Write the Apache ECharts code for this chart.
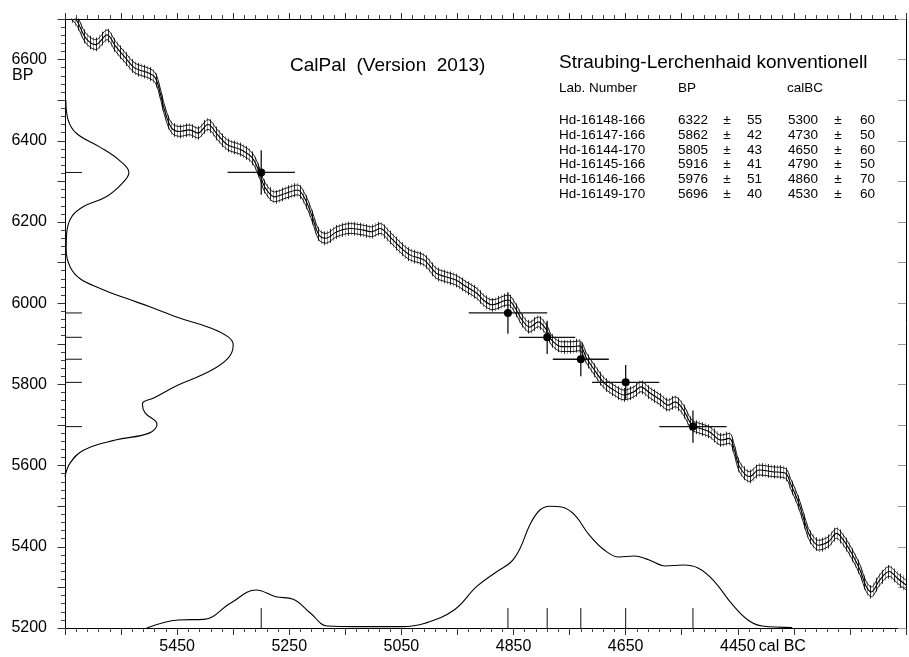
<!DOCTYPE html>
<html>
<head>
<meta charset="utf-8">
<script src="https://cdn.jsdelivr.net/npm/echarts@6/dist/echarts.min.js"></script>
<style>
html, body { margin: 0; padding: 0; background: #fff; }
#chart { width: 909px; height: 657px; }
</style>
</head>
<body>
<div id="chart"></div>
<script>
// ---- Calibration curve (centre line): calendar age (cal BC) vs radiocarbon age (BP)
const curveCalBC = [5641,5628,5613,5595,5575,5560,5542,5525,5501,5489,5481,5472,5460,5445,5428,5413,5395,5378,5360,5336,
  5316,5303,5294,5276,5256,5235,5221,5209,5197,5185,5165,5141,5118,5103,5088,5071,5053,5035,5009,4988,
  4971,4953,4935,4915,4904,4888,4860,4847,4835,4821,4806,4791,4782,4764,4746,4732,4720,4706,4688,4671,
  4653,4635,4623,4606,4588,4574,4562,4547,4532,4518,4500,4480,4465,4456,4447,4429,4412,4388,4365,4356,
  4341,4330,4321,4306,4288,4274,4262,4247,4232,4221,4212,4197,4180,4165,4150];
const curveBP = [6717,6694,6653,6637,6661,6633,6604,6579,6567,6555,6522,6473,6432,6423,6427,6419,6440,6415,6390,6378,
  6358,6321,6287,6262,6271,6279,6254,6213,6168,6160,6176,6184,6180,6176,6184,6164,6139,6119,6106,6074,
  6065,6057,6041,6024,6008,5996,6008,5988,5959,5941,5954,5934,5909,5893,5893,5895,5865,5836,5803,5786,
  5774,5782,5794,5778,5762,5749,5757,5737,5700,5692,5683,5663,5667,5638,5597,5573,5589,5585,5581,5556,
  5507,5458,5425,5404,5413,5433,5417,5384,5343,5302,5289,5318,5339,5322,5306];
const curveSigmaBP = 12;      // half-width of the outlined curve band (BP)
const curveDataErrBP = 17;    // half-length of the raw data error bars (BP)

// ---- Samples
const labNumbers  = ['Hd-16148-166','Hd-16147-166','Hd-16144-170','Hd-16145-166','Hd-16146-166','Hd-16149-170'];
const sampleBP    = [6322, 5862, 5805, 5916, 5976, 5696];
const sampleBPErr = [55, 42, 43, 41, 51, 40];
const sampleCalBC = [5300, 4730, 4650, 4790, 4860, 4530];
const sampleCalErr= [60, 50, 60, 50, 70, 60];

// ---- Summed radiocarbon probability (drawn along the BP axis)
const bpDensityBP  = [6501,6451,6418,6385,6353,6322,6295,6262,6238,6213,6173,6131,6090,6061,6037,6012,5992,5964,5941,5917,
  5897,5865,5831,5799,5767,5752,5730,5702,5680,5663,5638,5606,5573];
const bpDensityRel = [0.005,0.019,0.069,0.206,0.32,0.38,0.34,0.245,0.11,0.04,0.01,0.007,0.03,0.088,0.206,0.363,0.5,0.676,0.853,0.97,
  1.0,0.97,0.853,0.676,0.53,0.46,0.476,0.547,0.5,0.30,0.11,0.03,0.0];

// ---- Summed calendar probability (drawn along the cal BC axis)
const calDensityCalBC = [5504,5448,5402,5355,5309,5274,5243,5212,5182,5130,5049,5008,4956,4916,4880,4854,4838,4821,4803,4785,
  4764,4741,4715,4688,4662,4635,4609,4579,4547,4521,4494,4459,4432,4406,4353];
const calDensityRel = [0,0.066,0.071,0.203,0.312,0.257,0.236,0.121,0.016,0.011,0.011,0.039,0.148,0.339,0.462,0.544,0.657,0.846,0.969,1.0,
  0.993,0.928,0.764,0.64,0.583,0.591,0.56,0.509,0.517,0.493,0.394,0.189,0.066,0.016,0.004];

// ---- Axes
const calMin = 4150, calMax = 5650;
const bpMin = 5200, bpMax = 6700;
const calTickLabels = [5450, 5250, 5050, 4850, 4650, 4450];
const bpTickLabels  = [6600, 6400, 6200, 6000, 5800, 5600, 5400, 5200];

const FONT = "'Liberation Sans', Arial, Helvetica, sans-serif";

// vertical hatching used for the raw curve data error bars
const hatch = document.createElement('canvas');
hatch.width = 6; hatch.height = 4;
const hctx = hatch.getContext('2d');
hctx.fillStyle = '#1a1a1a'; hctx.fillRect(0, 0, 1, 4);
hctx.fillStyle = '#8c8c8c'; hctx.fillRect(3, 0, 1, 4);

const pairs = (xs, ys) => xs.map((x, i) => [x, ys[i]]);
const bandUp   = curveBP.map(v => v + curveSigmaBP);
const bandDown = curveBP.map(v => v - curveSigmaBP);

const chart = echarts.init(document.getElementById('chart'), null, { renderer: 'canvas' });

const axisCommon = {
  type: 'value',
  axisLine: { show: true, onZero: false, lineStyle: { color: '#000', width: 1 } },
  splitLine: { show: false },
};

const option = {
  animation: false,
  backgroundColor: '#fff',
  grid: { left: 65, top: 19, width: 850, height: 609, containLabel: false },
  xAxis: [
    Object.assign({}, axisCommon, {
      position: 'bottom', inverse: true, min: calMin, max: calMax, interval: 100,
      axisTick: { show: true, inside: false, length: 7, lineStyle: { color: '#333' } },
      minorTick: { show: true, splitNumber: 5, length: 4, lineStyle: { color: '#444' } },
      axisLabel: {
        margin: 11, color: '#000', fontFamily: FONT, fontSize: 16,
        showMinLabel: true, showMaxLabel: true,
        formatter: v => calTickLabels.includes(v) ? String(v) : ''
      }
    }),
    Object.assign({}, axisCommon, {
      position: 'top', inverse: true, min: calMin, max: calMax, interval: 100,
      axisTick: { show: true, inside: false, length: 6, lineStyle: { color: '#333' } },
      minorTick: { show: true, splitNumber: 5, length: 4, lineStyle: { color: '#444' } },
      axisLabel: { show: false }
    }),
    { type: 'value', show: false, min: 0, max: 5 }
  ],
  yAxis: [
    Object.assign({}, axisCommon, {
      position: 'left', min: bpMin, max: bpMax, interval: 100,
      axisTick: { show: true, inside: false, length: 7.5, lineStyle: { color: '#333' } },
      minorTick: { show: true, splitNumber: 5, length: 4, lineStyle: { color: '#444' } },
      axisLabel: {
        margin: 18, color: '#000', fontFamily: FONT, fontSize: 16,
        showMinLabel: true, showMaxLabel: true,
        formatter: v => bpTickLabels.includes(v) ? String(v) : ''
      }
    }),
    Object.assign({}, axisCommon, {
      position: 'right', min: bpMin, max: bpMax, interval: 100,
      axisTick: { show: true, inside: true, length: 8, lineStyle: { color: '#999' } },
      axisLabel: { show: false }
    }),
    { type: 'value', show: false, min: 0, max: 5 }
  ],
  series: [
    // hatched error-bar band of the curve data, one closed shape along the curve
    {
      type: 'custom', xAxisIndex: 0, yAxisIndex: 0, silent: true, z: 2, clip: true,
      data: [[curveCalBC[0], curveBP[0]]],
      renderItem: (params, api) => {
        const upper = curveCalBC.map((c, i) => api.coord([c, curveBP[i] + curveDataErrBP]));
        const lower = curveCalBC.map((c, i) => api.coord([c, curveBP[i] - curveDataErrBP])).reverse();
        return {
          type: 'polygon',
          shape: { points: upper.concat(lower), smooth: 0.3 },
          style: { fill: { image: hatch, repeat: 'repeat' }, opacity: 0.9 }
        };
      }
    },
    // curve band outline and centre line
    {
      type: 'line', data: pairs(curveCalBC, bandUp), symbol: 'none', smooth: 0.35, silent: true,
      lineStyle: { color: '#000', width: 0.9 }, z: 3
    },
    {
      type: 'line', data: pairs(curveCalBC, bandDown), symbol: 'none', smooth: 0.35, silent: true,
      lineStyle: { color: '#000', width: 0.9 }, z: 3
    },
    {
      type: 'line', data: pairs(curveCalBC, curveBP), symbol: 'none', smooth: 0.35, silent: true,
      lineStyle: { color: '#000', width: 1.1 }, z: 3
    },
    // summed BP probability on the left
    {
      type: 'line', xAxisIndex: 2, yAxisIndex: 0, data: pairs(bpDensityRel, bpDensityBP),
      symbol: 'none', smooth: 0.4, silent: true, lineStyle: { color: '#000', width: 1.1 }, z: 3
    },
    // summed calendar probability at the bottom
    {
      type: 'line', xAxisIndex: 0, yAxisIndex: 2, data: pairs(calDensityCalBC, calDensityRel),
      symbol: 'none', smooth: 0.4, silent: true, lineStyle: { color: '#000', width: 1.1 }, z: 3
    },
    // calendar markers on the bottom axis
    {
      type: 'custom', xAxisIndex: 0, yAxisIndex: 0, silent: true, z: 4,
      data: sampleCalBC.map(c => [c, bpMin]),
      renderItem: (params, api) => {
        const p = api.coord([api.value(0), api.value(1)]);
        return { type: 'line', shape: { x1: p[0], y1: p[1], x2: p[0], y2: p[1] - 20 },
                 style: { stroke: '#111', lineWidth: 1 } };
      }
    },
    // BP markers on the left axis
    {
      type: 'custom', xAxisIndex: 0, yAxisIndex: 0, silent: true, z: 4,
      data: sampleBP.map(b => [calMax, b]),
      renderItem: (params, api) => {
        const p = api.coord([api.value(0), api.value(1)]);
        return { type: 'line', shape: { x1: p[0], y1: p[1], x2: p[0] + 17, y2: p[1] },
                 style: { stroke: '#111', lineWidth: 1 } };
      }
    },
    // calibrated samples with error crosses
    {
      type: 'custom', xAxisIndex: 0, yAxisIndex: 0, silent: true, z: 5,
      data: sampleCalBC.map((c, i) => [c, sampleBP[i], sampleCalErr[i], sampleBPErr[i]]),
      renderItem: (params, api) => {
        const cal = api.value(0), bp = api.value(1), ce = api.value(2), be = api.value(3);
        const c = api.coord([cal, bp]);
        const l = api.coord([cal + ce, bp]);
        const r = api.coord([cal - ce, bp]);
        const t = api.coord([cal, bp + be]);
        const b = api.coord([cal, bp - be]);
        return { type: 'group', children: [
          { type: 'line', shape: { x1: l[0], y1: c[1], x2: r[0], y2: c[1] }, style: { stroke: '#111', lineWidth: 1.3 } },
          { type: 'line', shape: { x1: c[0], y1: t[1], x2: c[0], y2: b[1] }, style: { stroke: '#111', lineWidth: 1.3 } },
          { type: 'circle', shape: { cx: c[0], cy: c[1], r: 4 }, style: { fill: '#000' } }
        ] };
      }
    }
  ]
};

chart.setOption(option);

// ---- Text: program title, site title and sample table
const texts = [];
const txt = (text, x, y, size, align) => texts.push({
  type: 'text', x: x, y: y, silent: true, z: 10,
  style: { text: text, font: size + 'px ' + FONT, fill: '#000', textAlign: align || 'left', textVerticalAlign: 'middle' }
});

txt('CalPal  (Version  2013)', 290, 66, 19);
txt('Straubing-Lerchenhaid konventionell', 559, 63, 19);
txt('Lab. Number', 559, 88, 13.5);
txt('BP', 678, 88, 13.5);
txt('calBC', 787, 88, 13.5);
labNumbers.forEach((lab, i) => {
  const y = 120 + i * 14.9;
  txt(lab, 559, y, 13.5);
  txt(String(sampleBP[i]), 678, y, 13.5);
  txt('±', 727, y, 13.5, 'center');
  txt(String(sampleBPErr[i]), 762, y, 13.5, 'right');
  txt(String(sampleCalBC[i]), 788, y, 13.5);
  txt('±', 838, y, 13.5, 'center');
  txt(String(sampleCalErr[i]), 875, y, 13.5, 'right');
});

// axis unit captions
const p6600 = chart.convertToPixel({ xAxisIndex: 0, yAxisIndex: 0 }, [calMax, 6600]);
txt('BP', 12, p6600[1] + 16, 16);
const p4450 = chart.convertToPixel({ xAxisIndex: 0, yAxisIndex: 0 }, [4450, bpMin]);
txt('cal BC', p4450[0] + 21, p4450[1] + 19, 16);

chart.setOption({ graphic: { elements: texts } });
</script>
</body>
</html>
